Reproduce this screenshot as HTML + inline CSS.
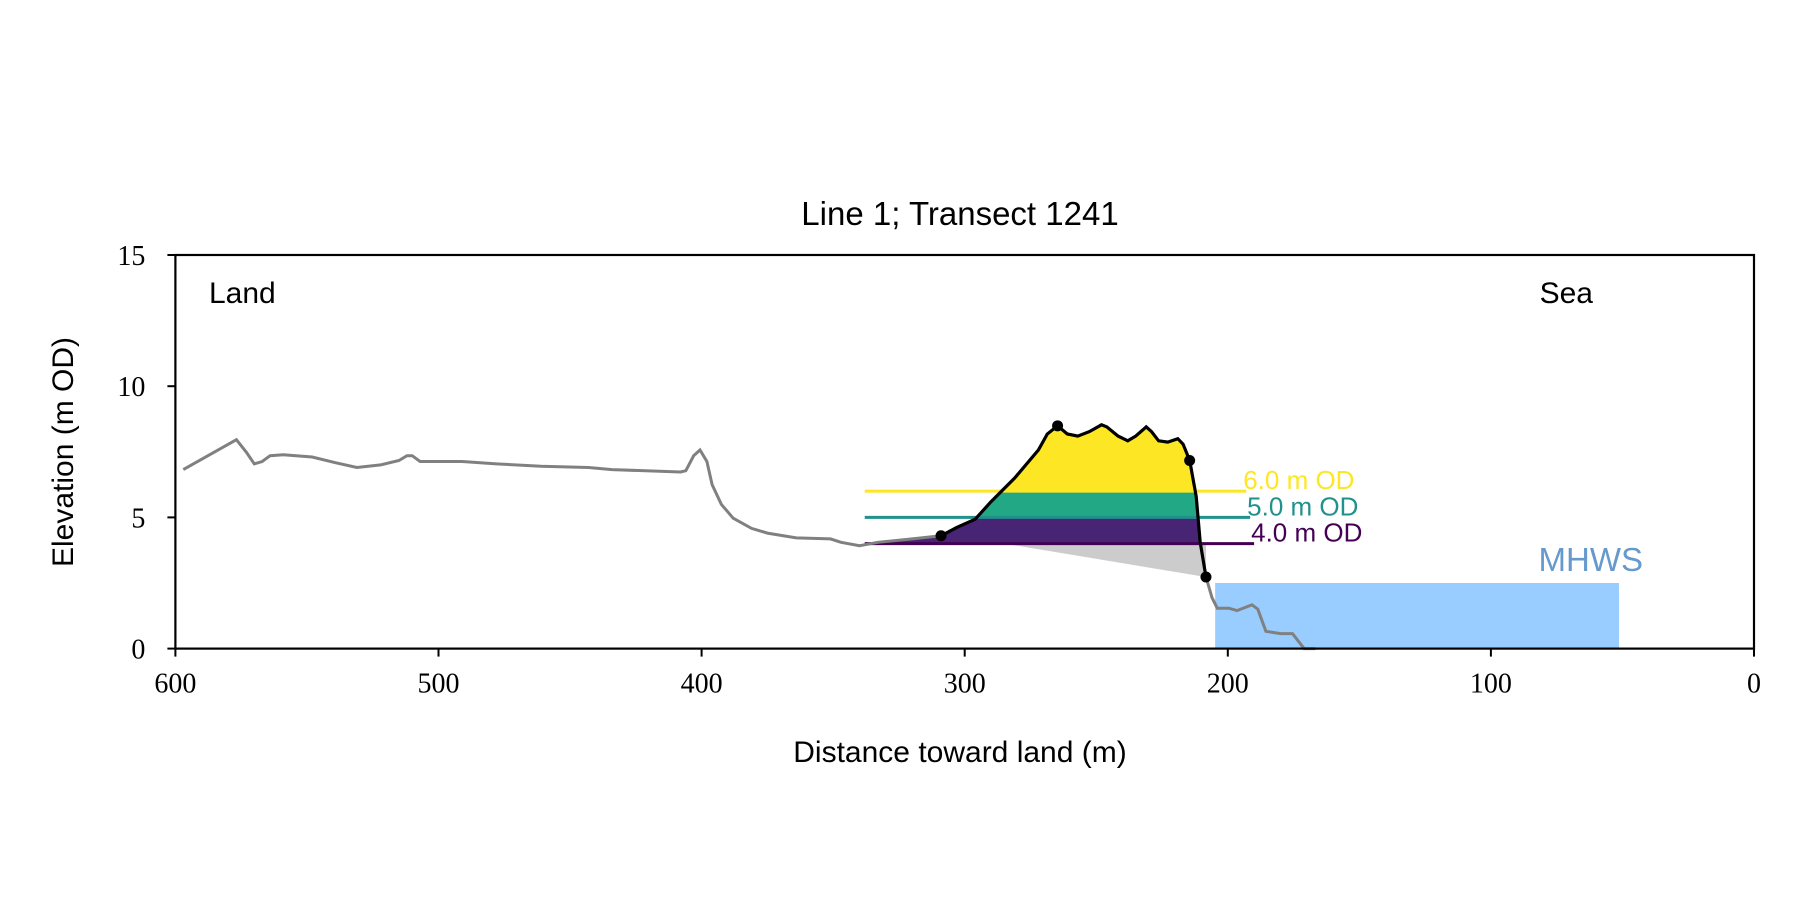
<!DOCTYPE html>
<html><head><meta charset="utf-8"><style>
body{margin:0;background:#fff}
svg text{font-family:"Liberation Sans",sans-serif}
.tk{font-family:"Liberation Serif",serif;font-size:28px}
</style></head><body>
<svg id="c" width="1800" height="900" xmlns="http://www.w3.org/2000/svg">
<rect width="1800" height="900" fill="#fff"/>
<defs><clipPath id="pc"><path id="clipPath"/></clipPath></defs>
<g id="plot"></g>
</svg>
<script>
const xTicks=[600,500,400,300,200,100,0];
const yTicks=[0,5,10,15];
const grayD=[597,576.8,573,570,567,564,559,548,539,531,522,515,512,510,507,500,491,478,461,443,434,408,406,403,400.6,398,396,392.5,388,381,375,364,351,347,340,333,320,309];
const grayE=[6.82,7.96,7.48,7.04,7.13,7.35,7.39,7.3,7.08,6.9,7.0,7.17,7.35,7.35,7.13,7.13,7.13,7.04,6.95,6.9,6.82,6.73,6.78,7.35,7.57,7.13,6.25,5.5,4.97,4.58,4.4,4.22,4.18,4.05,3.92,4.05,4.18,4.3];
const duneD=[309,303,296,290,281,272,268.6,264.7,261,257,252.6,248,246,241.7,238,235,231,229,226.3,222.8,219,217,214.5,212,210.5,208.3];
const duneE=[4.3,4.62,4.93,5.6,6.5,7.57,8.18,8.49,8.18,8.1,8.27,8.53,8.45,8.1,7.92,8.1,8.45,8.27,7.92,7.87,8.0,7.79,7.17,5.8,4.05,2.73];
const seaD=[208.3,206,204,199.6,196.5,190.8,188.6,185.5,180,175.4,171,166.7];
const seaE=[2.73,1.94,1.54,1.54,1.45,1.67,1.5,0.66,0.57,0.57,0,0];
const markerD=[309,264.7,214.5,208.3];
const markerE=[4.3,8.49,7.17,2.73];
const levels=[4,5,6];
const levelTop=[5,6,9];
const levelLabels=["4.0 m OD","5.0 m OD","6.0 m OD"];
const levelFill=["#482475","#22a884","#fde725"];
const levelLine=["#440154","#21918c","#fde725"];
const levelStart=338, levelEnd=[190,191.5,193];
const mhws=2.5, mhwsFrom=204.8, mhwsTo=51.3;
const toeD=[285,208.3], toeE=[4,2.73];

const L=175.4,R=1754,T=255,B=648.6;
const X=d=>L+(600-d)/600*(R-L);
const Y=e=>B-e/15*(B-T);
const NS="http://www.w3.org/2000/svg";
const g=document.getElementById('plot');
function el(t,a,p){const e=document.createElementNS(NS,t);for(const k in a)e.setAttribute(k,a[k]);(p||g).appendChild(e);return e;}
function pts(D,E){return D.map((d,i)=>X(d).toFixed(1)+','+Y(E[i]).toFixed(1)).join(' ');}

// MHWS
let r=el('rect',{x:X(mhwsFrom),y:Y(mhws),width:X(mhwsTo)-X(mhwsFrom),height:Y(0)-Y(mhws),fill:'#99ccff'});

let t=el('text',{x:X(mhwsTo)+24,y:Y(mhws)-12,'font-size':'33px',fill:'#6699cc','text-anchor':'end'});t.textContent='MHWS';


// clip from dune polygon
const cd=[levelStart,...grayD.filter(d=>d<levelStart),...duneD.slice(1)];
const ce=[levels[0],...grayE.filter((e,i)=>grayD[i]<levelStart),...duneE.slice(1)];
document.getElementById('clipPath').setAttribute('d','M'+pts(cd,ce).replace(/ /g,' L')+' L'+X(208.3)+','+Y(0)+' L'+X(levelStart)+','+Y(0)+'Z');

// gray toe wedge
let w=el('polygon',{points:pts([toeD[0],toeD[1],toeD[1]],[toeE[0],toeE[1],toeE[0]]),fill:'#cccccc'});


const bg=el('g',{'clip-path':'url(#pc)'});
levels.forEach((lv,i)=>{
  const b=el('rect',{x:X(levelStart),y:Y(levelTop[i]),width:X(208)-X(levelStart),height:Y(lv)-Y(levelTop[i]),fill:levelFill[i]},bg);
  
});
levels.forEach((lv,i)=>{
  const ln=el('line',{x1:X(levelStart),x2:X(levelEnd[i]),y1:Y(lv),y2:Y(lv),stroke:levelLine[i],'stroke-width':3});
  
  const tx=el('text',{x:X(levelEnd[i])-3,y:Y(lv)-2,'font-size':'26px',fill:levelLine[i]});tx.textContent=levelLabels[i];
  
});

let p1=el('polyline',{points:pts(grayD,grayE),fill:'none',stroke:'#808080','stroke-width':3});

let p2=el('polyline',{points:pts(seaD,seaE),fill:'none',stroke:'#808080','stroke-width':3});

let p3=el('polyline',{points:pts(duneD,duneE),fill:'none',stroke:'#000','stroke-width':3.2});

markerD.forEach((d,i)=>{const c=el('circle',{cx:X(d),cy:Y(markerE[i]),r:5.5,fill:'#000'});
  });

// axes
let ax=el('rect',{x:L,y:T,width:R-L,height:B-T,fill:'none',stroke:'#000','stroke-width':2.2});

xTicks.forEach(v=>{
  el('line',{x1:X(v),x2:X(v),y1:B,y2:B+8,stroke:'#000','stroke-width':2});
  const tx=el('text',{x:X(v),y:B+44,'text-anchor':'middle',class:'tk'});tx.textContent=v;
  
});
yTicks.forEach(v=>{
  el('line',{x1:L-8,x2:L,y1:Y(v),y2:Y(v),stroke:'#000','stroke-width':2});
  const tx=el('text',{x:L-30,y:Y(v)+10,'text-anchor':'end',class:'tk'});tx.textContent=v;
  
});
function txt(s,a,n){const e=el('text',a);e.textContent=s;}
txt('Line 1; Transect 1241',{x:960,y:225,'text-anchor':'middle','font-size':'33px'},'chart-title');
txt('Distance toward land (m)',{x:960,y:762,'text-anchor':'middle','font-size':'30px'},'x-axis-title');
txt('Elevation (m OD)',{x:0,y:0,'text-anchor':'middle','font-size':'30px',transform:'translate(73,452) rotate(-90)'},'y-axis-title');
txt('Land',{x:209,y:303,'font-size':'30px'},'land-label');
txt('Sea',{x:1593,y:303,'text-anchor':'end','font-size':'30px'},'sea-label');
</script>
</body></html>
